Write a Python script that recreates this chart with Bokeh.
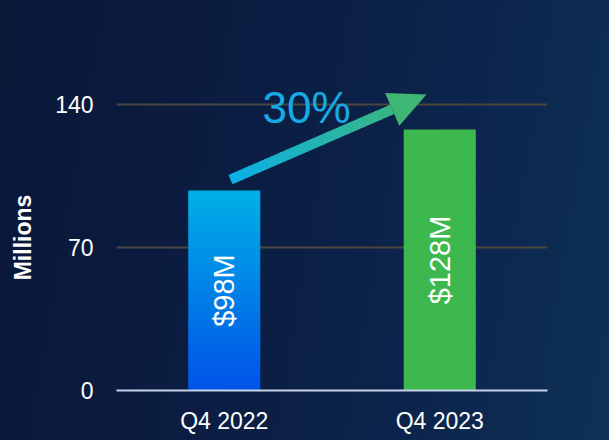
import math
from bokeh.plotting import figure
from bokeh.models import FactorRange, Range1d, FixedTicker, Label
from bokeh.core.properties import value
from bokeh.embed import file_html
from bokeh.resources import INLINE

# ---- data ----
categories = ["Q4 2022", "Q4 2023"]
revenue = [98, 128]
bar_labels = ["$98M", "$128M"]
growth_label = "30%"
y_ticks = [0, 70, 140]
y_max = 150
y_title = "Millions"

# ---- style ----
FONT = "Liberation Sans"
bar_top_colors = ["#00b0e6", "#3db84e"]
bar_bottom_colors = ["#0052e8", "#3db84e"]
bar_width = 0.334

W, H = 609, 440
ML, MR, MT, MB = 116, 62, 84, 50
FW = W - ML - MR
FH = H - MT - MB

p = figure(width=W, height=H, x_range=FactorRange(*categories),
           y_range=Range1d(0, y_max), output_backend="svg",
           toolbar_location=None,
           min_border_left=ML, min_border_right=MR,
           min_border_top=MT, min_border_bottom=MB)
p.background_fill_color = None
p.border_fill_color = None
p.outline_line_color = None


def hex2rgb(h):
    h = h.lstrip("#")
    return tuple(int(h[i:i + 2], 16) for i in (0, 2, 4))


def lerp(c0, c1, t):
    a, b = hex2rgb(c0), hex2rgb(c1)
    return "#%02x%02x%02x" % tuple(int(round(a[i] + (b[i] - a[i]) * t)) for i in range(3))


# ---- bars (vertical gradient drawn as thin slices) ----
N = 80
for cat, v, ctop, cbot in zip(categories, revenue, bar_top_colors, bar_bottom_colors):
    bots, tops, cols = [], [], []
    for i in range(N):
        b = v * i / N
        t = v * (i + 1) / N
        if i < N - 1:
            t += 0.4
        bots.append(b)
        tops.append(t)
        cols.append(lerp(cbot, ctop, (i + 0.5) / N))
    p.vbar(x=[cat] * N, bottom=bots, top=tops, width=bar_width,
           fill_color=cols, line_color=None)

p.text(x=categories, y=[v / 2 for v in revenue], text=bar_labels,
       angle=math.pi / 2, text_align="center", text_baseline="middle",
       text_font=value(FONT), text_font_size="29px", text_color="white")

# ---- growth arrow (gradient shaft + head) ----
sx = FW / 2.0
sy = FH / float(y_max)


def to_px(x, y):
    return x * sx, y * sy


def to_data(px, py):
    return px / sx, py / sy


tail = to_px(0.5 + 0.029, revenue[0] + 5.4)
tip = to_px(1.5 - 0.0615, revenue[1] + 17.1)
dx, dy = tip[0] - tail[0], tip[1] - tail[1]
L = math.hypot(dx, dy)
ux, uy = dx / L, dy / L
nx, ny = -uy, ux
head_len, head_half = 37.4, 17.9
base = (tip[0] - head_len * ux, tip[1] - head_len * uy)

c_tail, c_tip = "#0cb0ea", "#42b86c"
NS = 50
x0s, y0s, x1s, y1s, scol = [], [], [], [], []
for i in range(NS):
    t0, t1 = i / NS, (i + 1) / NS
    a = (tail[0] + (base[0] - tail[0]) * t0, tail[1] + (base[1] - tail[1]) * t0)
    b = (tail[0] + (base[0] - tail[0]) * min(1.0, t1 + 0.01),
         tail[1] + (base[1] - tail[1]) * min(1.0, t1 + 0.01))
    da, db = to_data(*a), to_data(*b)
    x0s.append(da[0]); y0s.append(da[1]); x1s.append(db[0]); y1s.append(db[1])
    frac = (t0 + t1) / 2 * (L - head_len) / L
    scol.append(lerp(c_tail, c_tip, frac))
p.segment(x0=x0s, y0=y0s, x1=x1s, y1=y1s, line_color=scol, line_width=10,
          line_cap="butt")

c1 = to_data(base[0] + head_half * nx, base[1] + head_half * ny)
c2 = to_data(base[0] - head_half * nx, base[1] - head_half * ny)
tp = to_data(*tip)
p.patch(x=[c1[0], tp[0], c2[0]], y=[c1[1], tp[1], c2[1]],
        fill_color=lerp(c_tail, c_tip, 0.93), line_color=None)

p.add_layout(Label(x=0.882, y=138.7, text=growth_label, text_align="center",
                   text_baseline="alphabetic", text_font=FONT,
                   text_font_size="44px", text_color="#16abe4"))

# ---- axes / grid ----
p.xgrid.grid_line_color = None
p.ygrid.grid_line_color = "#4b4640"
p.ygrid.grid_line_width = 2
p.ygrid.ticker = FixedTicker(ticks=y_ticks)

p.yaxis.ticker = FixedTicker(ticks=y_ticks)
p.yaxis.axis_line_color = None
p.yaxis.major_tick_line_color = None
p.yaxis.minor_tick_line_color = None
p.yaxis.major_tick_out = 0
p.yaxis.major_tick_in = 0
p.yaxis.minor_tick_out = 0
p.yaxis.major_label_standoff = 23
p.yaxis.major_label_text_font = FONT
p.yaxis.major_label_text_font_size = "23px"
p.yaxis.major_label_text_color = "white"
p.yaxis.axis_label = y_title
p.yaxis.axis_label_text_font = FONT
p.yaxis.axis_label_text_font_size = "23px"
p.yaxis.axis_label_text_font_style = "bold"
p.yaxis.axis_label_text_color = "white"
p.yaxis.axis_label_standoff = 16

p.xaxis.axis_line_color = "#c6d2ea"
p.xaxis.axis_line_width = 2
p.xaxis.major_tick_line_color = None
p.xaxis.minor_tick_line_color = None
p.xaxis.major_tick_out = 0
p.xaxis.major_tick_in = 0
p.xaxis.minor_tick_out = 0
p.xaxis.major_label_standoff = 17
p.xaxis.major_label_text_font = FONT
p.xaxis.major_label_text_font_size = "23px"
p.xaxis.major_label_text_color = "white"

html = file_html(p, INLINE)
style = ("<style>html{min-height:100%;background:linear-gradient(100deg,"
         "#0a1838 0%,#0b1d42 40%,#0c244c 70%,#0e3155 100%) no-repeat;"
         "background-size:100% 100%;}body{background:transparent;}</style>")
html = html.replace("<head>", "<head>" + style, 1)
open("out.html", "w").write(html)
